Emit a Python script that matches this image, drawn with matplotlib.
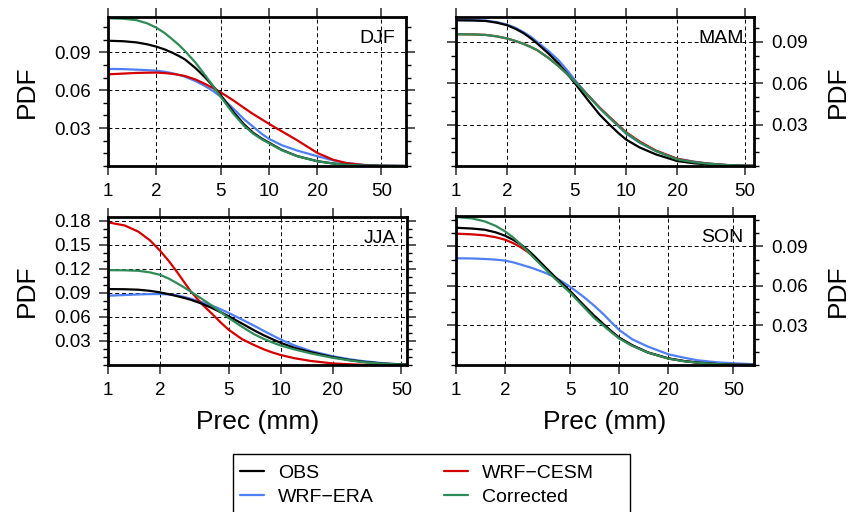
import matplotlib
matplotlib.use("Agg")
import matplotlib.pyplot as plt
from matplotlib.ticker import FixedLocator, NullLocator, MultipleLocator, FixedFormatter
from matplotlib.patches import Rectangle

plt.rcParams['font.family'] = ['Liberation Sans', 'DejaVu Sans']

# ---- data -------------------------------------------------------------
prec = [1, 1.25, 1.5, 1.75, 2, 2.25, 2.5, 2.75, 3, 3.5, 4, 4.5, 5, 6, 7, 8, 9, 10, 12, 15, 20, 25, 30, 40, 50, 70]

djf_obs  = [.0992, .0988, .0979, .0964, .0945, .0923, .0898, .0872, .0845, .0775, .0703, .0632, .0563, .0430, .0330, .0262, .0218, .0185, .0128, .0078, .0038, .0020, .0010, .0003, .0001, 0]
djf_era  = [.0769, .0767, .0763, .0759, .0755, .0746, .0735, .0722, .0708, .0672, .0634, .0593, .0550, .0455, .0370, .0310, .0255, .0215, .0165, .0122, .0077, .0045, .0024, .0008, .0003, 0]
djf_cesm = [.0726, .0732, .0737, .0739, .0740, .0736, .0730, .0722, .0713, .0685, .0650, .0617, .0584, .0520, .0460, .0410, .0370, .0334, .0275, .0203, .0103, .0050, .0024, .0005, .0001, 0]
djf_corr = [.1170, .1166, .1155, .1130, .1095, .1053, .1005, .0960, .0912, .0818, .0721, .0632, .0550, .0415, .0318, .0255, .0212, .0180, .0125, .0077, .0037, .0020, .0010, .0003, .0001, 0]

mam_obs  = [.1056, .1055, .1051, .1038, .1020, .0993, .0962, .0926, .0888, .0815, .0744, .0670, .0600, .0475, .0372, .0300, .0240, .0192, .0135, .0084, .0036, .0020, .0012, .0004, .0001, 0]
mam_era  = [.1058, .1057, .1054, .1042, .1025, .1000, .0970, .0937, .0900, .0833, .0768, .0695, .0624, .0510, .0420, .0350, .0290, .0235, .0170, .0108, .0053, .0032, .0019, .0007, .0002, 0]
mam_cesm = [.0955, .0954, .0950, .0939, .0924, .0905, .0885, .0863, .0840, .0783, .0725, .0667, .0612, .0510, .0423, .0355, .0297, .0245, .0178, .0112, .0052, .0030, .0018, .0006, .0002, 0]
mam_corr = [.0955, .0954, .0950, .0939, .0924, .0905, .0885, .0863, .0840, .0783, .0725, .0667, .0612, .0508, .0420, .0350, .0292, .0240, .0172, .0108, .0048, .0028, .0017, .0006, .0002, 0]

jja_obs  = [.0947, .0945, .0939, .0925, .0906, .0883, .0860, .0838, .0815, .0765, .0711, .0658, .0608, .0515, .0434, .0370, .0320, .0277, .0215, .0160, .0098, .0063, .0040, .0017, .0008, .0003]
jja_era  = [.0864, .0873, .0880, .0884, .0885, .0880, .0870, .0850, .0828, .0785, .0740, .0695, .0649, .0565, .0492, .0425, .0368, .0318, .0245, .0173, .0110, .0072, .0049, .0020, .0008, .0003]
jja_cesm = [.1780, .1740, .1663, .1555, .1427, .1297, .1167, .1040, .0925, .0760, .0640, .0530, .0440, .0320, .0250, .0195, .0155, .0125, .0085, .0050, .0020, .0009, .0003, .0001, 0, 0]
jja_corr = [.1183, .1181, .1175, .1155, .1125, .1078, .1022, .0970, .0918, .0825, .0740, .0660, .0587, .0475, .0385, .0325, .0280, .0243, .0195, .0144, .0090, .0058, .0036, .0015, .0005, .0002]

son_obs  = [.1041, .1035, .1026, .1006, .0980, .0948, .0913, .0872, .0829, .0745, .0673, .0615, .0560, .0458, .0376, .0310, .0253, .0207, .0150, .0095, .0050, .0030, .0019, .0007, .0002, 0]
son_era  = [.0809, .0808, .0804, .0799, .0792, .0778, .0761, .0746, .0731, .0700, .0668, .0630, .0593, .0520, .0451, .0385, .0320, .0265, .0195, .0139, .0081, .0055, .0036, .0020, .0013, .0005]
son_cesm = [.0996, .0991, .0983, .0969, .0950, .0923, .0892, .0857, .0819, .0740, .0668, .0612, .0560, .0455, .0367, .0305, .0250, .0205, .0148, .0094, .0049, .0029, .0018, .0006, .0002, 0]
son_corr = [.1122, .1112, .1089, .1055, .1013, .0965, .0913, .0862, .0812, .0730, .0660, .0600, .0548, .0445, .0358, .0298, .0245, .0200, .0145, .0094, .0048, .0028, .0018, .0006, .0002, 0]

seasons = ['DJF', 'MAM', 'JJA', 'SON']
series_names = ['OBS', 'WRF\u2212ERA', 'WRF\u2212CESM', 'Corrected']
x_ticks = [1, 2, 5, 10, 20, 50]
x_ticklabels = ['1', '2', '5', '10', '20', '50']
y_ticks_main = [0.03, 0.06, 0.09]
y_ticks_jja = [0.03, 0.06, 0.09, 0.12, 0.15, 0.18]

# ---- style ------------------------------------------------------------
colors = {'OBS': 'black', 'WRF\u2212ERA': '#4f7ff5',
          'WRF\u2212CESM': '#d40000', 'Corrected': '#2e8b57'}

W, H = 849, 512
fig = plt.figure(figsize=(W / 100, H / 100), dpi=100)

def fbox(l, r, t, b):
    return [l / W, 1 - b / H, (r - l) / W, (b - t) / H]

panels = [
    dict(season='DJF', rect=fbox(108, 406, 17, 166), data=[djf_obs, djf_era, djf_cesm, djf_corr],
         xmax=71, ymax=0.118, yt=y_ticks_main, side='left', xlabel=False),
    dict(season='MAM', rect=fbox(456, 754, 17, 166), data=[mam_obs, mam_era, mam_cesm, mam_corr],
         xmax=56.6, ymax=0.108, yt=y_ticks_main, side='right', xlabel=False),
    dict(season='JJA', rect=fbox(108, 407, 217, 365), data=[jja_obs, jja_era, jja_cesm, jja_corr],
         xmax=54, ymax=0.1846, yt=y_ticks_jja, side='left', xlabel=True),
    dict(season='SON', rect=fbox(456, 754, 216, 365), data=[son_obs, son_era, son_cesm, son_corr],
         xmax=66.8, ymax=0.113, yt=y_ticks_main, side='right', xlabel=True),
]

draw_order = [1, 2, 0, 3]
lines = {}
for p in panels:
    ax = fig.add_axes(p['rect'])
    ax.set_xscale('log')
    for i in draw_order:
        name = series_names[i]
        ln, = ax.plot(prec, p['data'][i], color=colors[name], lw=1.6, label=name,
                      solid_capstyle='round', solid_joinstyle='round')
        lines[name] = ln
    ax.set_xlim(1, p['xmax'])
    ax.set_ylim(0, p['ymax'])
    ax.xaxis.set_major_locator(FixedLocator(x_ticks))
    ax.xaxis.set_major_formatter(FixedFormatter(x_ticklabels))
    ax.xaxis.set_minor_locator(NullLocator())
    ax.yaxis.set_major_locator(FixedLocator(p['yt']))
    ax.yaxis.set_major_formatter(FixedFormatter(['%.2f' % v for v in p['yt']]))
    ax.yaxis.set_minor_locator(MultipleLocator(0.01))
    ax.grid(True, which='major', color='black', lw=0.7, ls=(0, (4, 3)))
    for s in ax.spines.values():
        s.set_linewidth(2.0)
    ax.tick_params(which='both', direction='out', top=True, bottom=True, left=True, right=True)
    ax.tick_params(which='major', length=6.5, width=1.4, color='#555555', pad=6, labelsize=13.5)
    ax.tick_params(which='minor', length=3.6, width=1.0, color='black')
    if p['side'] == 'left':
        ax.tick_params(labelleft=True, labelright=False)
        ax.set_ylabel('PDF', fontsize=19)
        ax.yaxis.set_label_coords(-0.272, 0.5)
    else:
        ax.tick_params(labelleft=False, labelright=True)
        ax.yaxis.set_label_position('right')
        ax.set_ylabel('PDF', fontsize=19, rotation=90)
        ax.yaxis.set_label_coords(1.282, 0.5)
    ax.yaxis.label.set_va('center')
    ax.yaxis.label.set_ha('center')
    if p['xlabel']:
        ax.set_xlabel('Prec (mm)', fontsize=19)
        ax.xaxis.set_label_coords(0.5, -0.385)
        ax.xaxis.label.set_va('center')
    ax.text(0.965, 0.91, p['season'], transform=ax.transAxes, ha='right', va='top',
            fontsize=14)

# ---- legend -----------------------------------------------------------
handles = [lines[n] for n in series_names]
fig.legend(handles, series_names, loc='upper left', ncol=2, frameon=False,
           bbox_to_anchor=(236 / W, 1 - 460 / H), fontsize=14,
           handlelength=1.25, handletextpad=0.7, columnspacing=3.6,
           labelspacing=0.36, borderpad=0.2, borderaxespad=0)
fig.patches.append(Rectangle((233 / W, -0.05), (630 - 233) / W, 0.05 + (512 - 454) / H,
                             transform=fig.transFigure, fill=False, lw=1.0,
                             edgecolor='black'))

fig.savefig('out.png', dpi=100)
